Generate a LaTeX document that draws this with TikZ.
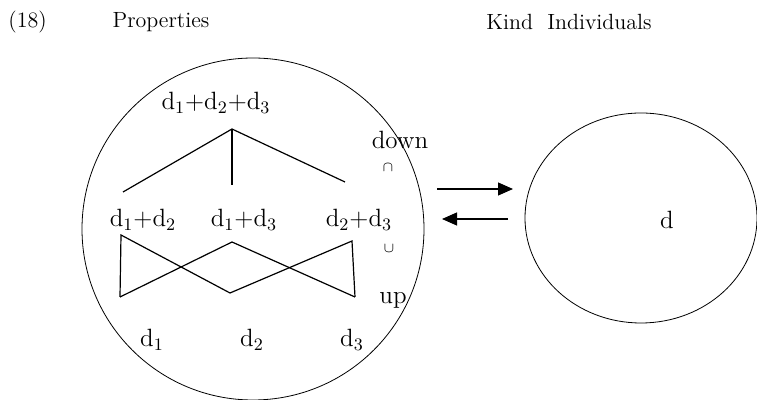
\documentclass[tikz,border=0pt]{standalone}
\usepackage{amsmath, amssymb}
\usetikzlibrary{arrows.meta}

\tikzset{
  lbl/.style={inner sep=0pt, font=\fontsize{12.5}{14}\selectfont},
  head/.style={inner sep=0pt, font=\fontsize{11}{13}\selectfont},
  tiny/.style={inner sep=0pt, font=\scriptsize},
  edge/.style={line width=0.6pt},
  ring/.style={line width=0.4pt},
  map/.style={line width=0.6pt, -{Triangle[length=7.5pt,width=6.5pt]}}
}
\newcommand{\dd}[1]{d\textsubscript{#1}}

\begin{document}
\begin{tikzpicture}[x=0.5pt, y=-0.5pt]
  \useasboundingbox (0,0) rectangle (757,400);

  % headings
  \node[head, anchor=west] (num) at (8,22) {(18)};
  \node[head] (props) at (161,22) {Properties};
  \node[head] (kinds) at (569,22) {Kind~~Individuals};

  % the two domains
  \draw[ring] (253,229) circle [radius=171];
  \draw[ring] (641,218) ellipse [x radius=116, y radius=105];

  % property lattice
  \node[lbl] (top) at (216,103) {\dd{1}+\dd{2}+\dd{3}};
  \node[lbl] (p12) at (143,220) {\dd{1}+\dd{2}};
  \node[lbl] (p13) at (244,220) {\dd{1}+\dd{3}};
  \node[lbl] (p23) at (359,220) {\dd{2}+\dd{3}};
  \node[lbl] (p1) at (152,340) {\dd{1}};
  \node[lbl] (p2) at (252,340) {\dd{2}};
  \node[lbl] (p3) at (352,340) {\dd{3}};

  \coordinate (apex) at (232,129);
  \coordinate (t12) at (123,192);
  \coordinate (t13) at (232,185);
  \coordinate (t23) at (345,182);
  \draw[edge] (t12) -- (apex) -- (t23);
  \draw[edge] (apex) -- (t13);

  \coordinate (a12) at (121,235);
  \coordinate (a13) at (232,242);
  \coordinate (a23) at (352,241);
  \coordinate (b1) at (120,297);
  \coordinate (b2) at (230,293);
  \coordinate (b3) at (355,297);
  \draw[edge] (b1) -- (a12) -- (b2);
  \draw[edge] (b1) -- (a13) -- (b3);
  \draw[edge] (b2) -- (a23) -- (b3);

  % operators
  \node[lbl] (down) at (400,140) {down};
  \node[tiny] (capop) at (388,168) {$\cap$};
  \node[tiny] (cupop) at (389,249) {$\cup$};
  \node[lbl] (up) at (393,300) {up};

  % kind individual
  \node[lbl] (kind) at (667,220) {d};

  \coordinate (r0) at (437,189);
  \coordinate (r1) at (513,189);
  \coordinate (l0) at (508,219);
  \coordinate (l1) at (442,219);
  \draw[map] (r0) -- (r1);
  \draw[map] (l0) -- (l1);
\end{tikzpicture}
\end{document}
